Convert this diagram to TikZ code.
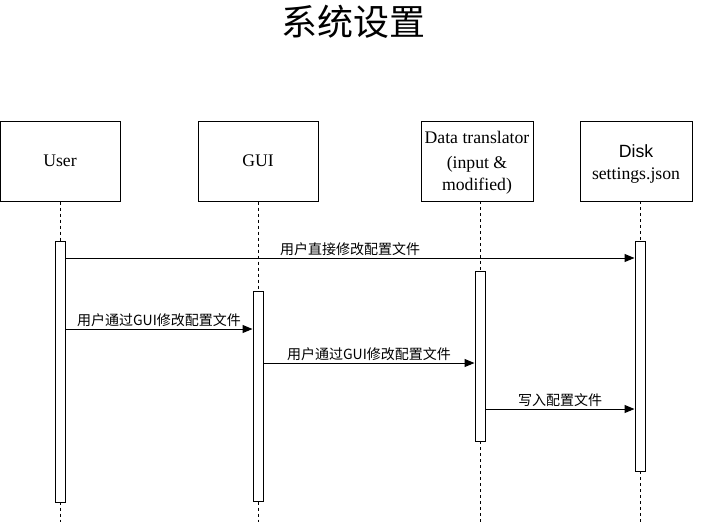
\documentclass[tikz,border=0pt]{standalone}
\usepackage{fontspec}
\setmainfont{Liberation Serif}
\newfontfamily\cjk{Noto Sans CJK SC}
\newfontfamily\arial{Liberation Sans}
\usetikzlibrary{arrows.meta,positioning,calc}
\usepackage{xcolor}
\definecolor{Ink}{HTML}{000000}
\tikzset{
 actor/.style={draw=Ink, line width=1pt, fill=white, minimum width=120pt, minimum height=80pt, align=center, inner sep=0pt, font=\fontsize{17.7}{23}\selectfont},
 bar/.style={draw=Ink, line width=1pt, fill=white, minimum width=10pt, inner sep=0pt},
 life/.style={draw=Ink, line width=1pt, dash pattern=on 3pt off 3pt},
 msg/.style={-{Triangle[length=10pt,width=8pt]}, line width=1pt, draw=Ink},
 msglabel/.style={font=\cjk\fontsize{14}{15}\selectfont, inner sep=2pt, above}
}
\begin{document}
\begin{tikzpicture}[x=1pt,y=-1pt]
\useasboundingbox (0,0) rectangle (701,522);
\node[font=\cjk\fontsize{36}{40}\selectfont] (title) at (353,22) {系统设置};
% participants
\node[actor] (user) at (60,161) {User};
\node[actor] (gui) at (258,161) {GUI};
\node[actor, minimum width=112pt] (trans) at (477,161) {};
\node[align=center, inner sep=0pt, font=\fontsize{17.7}{22}\selectfont] (transtext) at (477,163) {Data translator\\[3pt](input \&\\modified)};
\node[actor, minimum width=112pt] (disk) at (636,161) {};
\node[align=center, inner sep=0pt, font=\fontsize{17.7}{22}\selectfont] (disktext) at (636,164) {{\arial Disk}\\settings.json};
% lifelines
\coordinate (end) at (0,522);
\draw[life] (user.south) -- (user.south |- end);
\draw[life] (gui.south) -- (gui.south |- end);
\draw[life] (480,201) -- (480,522);
\draw[life] (640,201) -- (640,522);
% activations
\node[bar, minimum height=261pt] (ubar) at (60,371.5) {};
\node[bar, minimum height=210pt] (gbar) at (258,396) {};
\node[bar, minimum height=170pt] (tbar) at (480,356) {};
\node[bar, minimum height=230pt] (dbar) at (640,356) {};
% messages
\coordinate (m1) at (0,258);
\coordinate (m2) at (0,329);
\coordinate (m3) at (0,363);
\coordinate (m4) at (0,409);
\draw[msg] (ubar.east |- m1) -- node[msglabel, pos=0.5] {用户直接修改配置文件} (dbar.west |- m1);
\draw[msg] (ubar.east |- m2) -- node[msglabel, pos=0.5] {用户通过GUI修改配置文件} (gbar.west |- m2);
\draw[msg] (gbar.east |- m3) -- node[msglabel, pos=0.5] {用户通过GUI修改配置文件} (tbar.west |- m3);
\draw[msg] (tbar.east |- m4) -- node[msglabel, pos=0.5] {写入配置文件} (dbar.west |- m4);
\end{tikzpicture}
\end{document}
